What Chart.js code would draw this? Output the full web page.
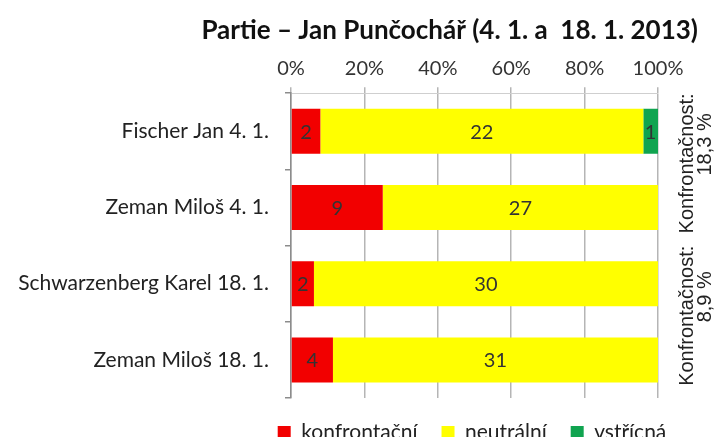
<!DOCTYPE html>
<html>
<head>
<meta charset="utf-8">
<script src="https://cdn.jsdelivr.net/npm/chart.js@4.4.1/dist/chart.umd.min.js"></script>
<style>
  html, body { margin: 0; padding: 0; background: #fff; }
  #wrap { width: 721px; height: 437px; }
</style>
</head>
<body>
<div id="wrap"><canvas id="canvas" width="721" height="437"></canvas></div>
<script>
const categories = ['Fischer Jan 4. 1.', 'Zeman Miloš 4. 1.', 'Schwarzenberg Karel 18. 1.', 'Zeman Miloš 18. 1.'];
const konfrontacni = [2, 9, 2, 4];
const neutralni = [22, 27, 30, 31];
const vstricna = [1, 0, 0, 0];
const xTicks = [0, 20, 40, 60, 80, 100];
const sideNotes = [
    {between: [0, 1], lines: ['Konfrontačnost:', '18,3 %']},
    {between: [2, 3], lines: ['Konfrontačnost:', '8,9 %']}
];

const FONT = 'Lato, "Noto Sans", sans-serif';

// share of each row, the chart is a 100 % stacked bar
function toPercent(arr) {
    return arr.map((v, i) => 100 * v / (konfrontacni[i] + neutralni[i] + vstricna[i]));
}
const counts = [konfrontacni, neutralni, vstricna];

// counts written in the middle of each segment
const valueLabels = {
    id: 'valueLabels',
    afterDatasetsDraw(chart) {
        const ctx = chart.ctx;
        ctx.save();
        ctx.font = '20px ' + FONT;
        ctx.fillStyle = '#333';
        ctx.textAlign = 'center';
        ctx.textBaseline = 'middle';
        chart.data.datasets.forEach((ds, di) => {
            chart.getDatasetMeta(di).data.forEach((bar, i) => {
                const n = counts[di][i];
                if (!n) return;
                ctx.fillText(String(n), (bar.x + bar.base) / 2, bar.y + 1);
            });
        });
        ctx.restore();
    }
};

// rotated notes on the right of the plot
const sideText = {
    id: 'sideText',
    afterDraw(chart) {
        const ctx = chart.ctx;
        const y = chart.scales.y;
        const area = chart.chartArea;
        ctx.save();
        ctx.font = '20px "Liberation Sans", Arial, sans-serif';
        ctx.fillStyle = '#222';
        ctx.textAlign = 'center';
        ctx.textBaseline = 'middle';
        const offsets = [[29, -6], [47, -25]];
        sideNotes.forEach(note => {
            const cy = (y.getPixelForValue(note.between[0]) + y.getPixelForValue(note.between[1])) / 2;
            note.lines.forEach((line, k) => {
                ctx.save();
                ctx.translate(area.right + offsets[k][0], cy + offsets[k][1]);
                ctx.rotate(-Math.PI / 2);
                ctx.fillText(line, 0, 0);
                ctx.restore();
            });
        });
        ctx.restore();
    }
};

// the legend is centred under the plot, not under the whole canvas
const legendShift = {
    id: 'legendShift',
    afterLayout(chart) {
        const lg = chart.legend;
        lg.left = 246;
        lg.width = lg.right - lg.left;
    }
};

const ctx = document.getElementById('canvas').getContext('2d');
const chart = new Chart(ctx, {
    type: 'bar',
    data: {
        labels: categories,
        datasets: [
            {label: 'konfrontační', data: toPercent(konfrontacni), backgroundColor: '#f20000'},
            {label: 'neutrální', data: toPercent(neutralni), backgroundColor: '#ffff00'},
            {label: 'vstřícná', data: toPercent(vstricna), backgroundColor: '#10a450'}
        ]
    },
    options: {
        indexAxis: 'y',
        responsive: false,
        animation: false,
        layout: {padding: {left: 0, right: 23, top: 0, bottom: -16}},
        datasets: {bar: {barPercentage: 0.59, categoryPercentage: 1.0, borderWidth: 0}},
        scales: {
            x: {
                type: 'linear',
                position: 'top',
                stacked: true,
                min: 0,
                max: 100,
                afterBuildTicks: s => { s.ticks = xTicks.map(v => ({value: v})); },
                afterFit: s => { s.height = 47; },
                ticks: {
                    callback: v => v + '%',
                    font: {family: FONT, size: 20},
                    color: '#333',
                    padding: 7,
                    maxRotation: 0
                },
                grid: {color: '#b5b5b5', lineWidth: 1.5, tickLength: 6},
                border: {display: true, color: '#cfcfcf', width: 1}
            },
            y: {
                stacked: true,
                afterFit: s => { s.width = 291; },
                ticks: {
                    font: {family: FONT, size: 21},
                    color: '#222',
                    padding: 16
                },
                grid: {drawOnChartArea: false, color: '#8c8c8c', lineWidth: 1.5, tickLength: 6},
                border: {display: true, color: '#8c8c8c', width: 1.5}
            },
            y2: {
                type: 'category',
                position: 'right',
                labels: categories,
                afterFit: s => { s.width = 40; },
                ticks: {display: false},
                grid: {display: false},
                border: {display: false}
            }
        },
        plugins: {
            title: {
                display: true,
                text: 'Partie – Jan Punčochář (4. 1. a  18. 1. 2013)',
                align: 'end',
                color: '#111',
                font: {family: FONT, size: 26, weight: 'bold'},
                padding: {top: 15, bottom: 0}
            },
            legend: {
                position: 'bottom',
                labels: {
                    boxWidth: 13,
                    boxHeight: 13,
                    padding: 24,
                    color: '#222',
                    font: {family: FONT, size: 21}
                }
            },
            tooltip: {enabled: false}
        }
    },
    plugins: [valueLabels, sideText, legendShift]
});
</script>
</body>
</html>
